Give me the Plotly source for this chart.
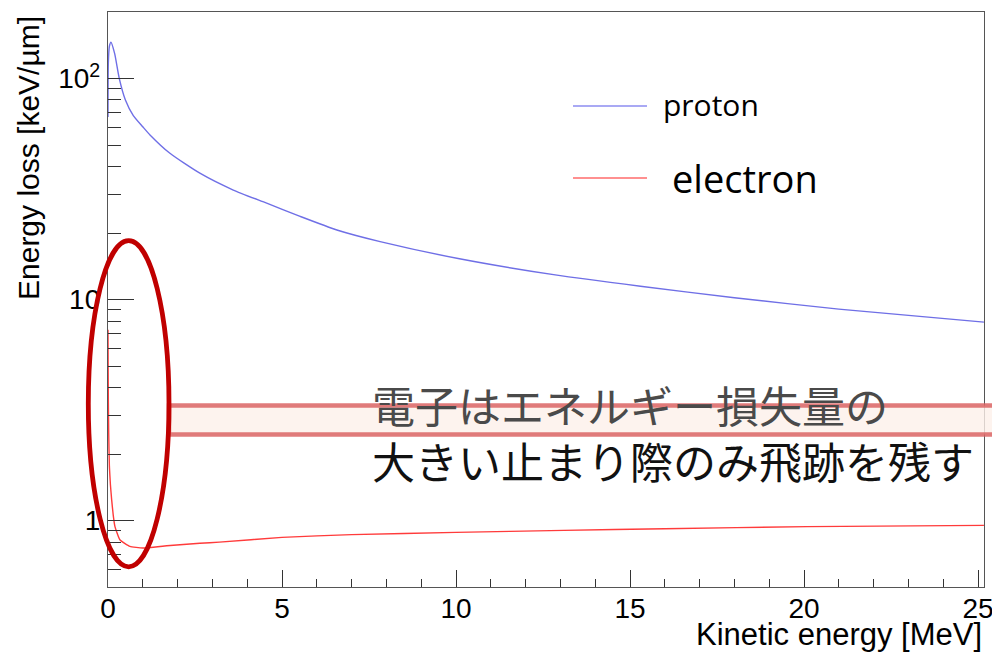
import plotly.graph_objects as go

# ---------------- data ----------------
proton_E = [0.0, 0.01, 0.04, 0.086, 0.19, 0.325, 0.5, 0.727, 1.0, 1.207, 1.78,
            2.64, 3.6, 4.56, 5.52, 6.6, 7.82, 10.1, 12.9, 15.3, 18.0, 21.0, 25.17]
proton_dEdx = [67, 118, 140, 146, 130, 100, 80, 68, 60.5, 55.6, 45.9,
               37.3, 31.3, 27.3, 23.8, 20.6, 18.3, 15.3, 12.9, 11.5, 10.2, 9.06, 7.91]

electron_E = [0.0, 0.004, 0.01, 0.02, 0.04, 0.07, 0.105, 0.15, 0.2, 0.34, 0.63,
              1.0, 1.69, 2.64, 3.2, 5.0, 7.0, 10.0, 13.1, 16.0, 20.1, 25.17]
electron_dEdx = [7.3, 5.0, 3.5, 2.5, 1.76, 1.45, 1.245, 1.06, 0.94, 0.82, 0.765,
                 0.752, 0.77, 0.79, 0.80, 0.84, 0.865, 0.885, 0.904, 0.92, 0.94, 0.952]

y_major_vals = [1, 10, 100]
y_major_text = ["1", "10", "10<sup>2</sup>"]
y_minor_vals = [0.6, 0.7, 0.8, 0.9, 2, 3, 4, 5, 6, 7, 8, 9,
                20, 30, 40, 50, 60, 70, 80, 90]
x_major_vals = [0, 5, 10, 15, 20, 25]

legend_names = ["proton", "electron"]
note_lines = ["電子はエネルギー損失量の", "大きい止まり際のみ飛跡を残す"]
x_title = "Kinetic energy [MeV]"
y_title = "Energy loss [keV/µm]"

# ---------------- layout geometry ----------------
W, H = 992, 654
L, R, T, B = 108, 8, 12, 67
PW = W - L - R
PH = H - T - B


def px(x):
    return (x - L) / PW


def py(y):
    return (H - B - y) / PH


PROTON_COLOR = "#6f6fe6"
ELECTRON_COLOR = "#ff3b3b"

fig = go.Figure()
fig.add_trace(go.Scatter(x=proton_E, y=proton_dEdx, mode="lines",
                         line=dict(color=PROTON_COLOR, width=1.4, shape="spline", smoothing=0.6),
                         name=legend_names[0], showlegend=False))
fig.add_trace(go.Scatter(x=electron_E, y=electron_dEdx, mode="lines",
                         line=dict(color=ELECTRON_COLOR, width=1.4, shape="spline", smoothing=0.4),
                         name=legend_names[1], showlegend=False))

fig.update_layout(
    width=W, height=H,
    margin=dict(l=L, r=R, t=T, b=B, autoexpand=False),
    paper_bgcolor="white", plot_bgcolor="white",
    xaxis=dict(
        range=[0, PW / 34.8], tickvals=x_major_vals, automargin=False,
        ticks="inside", ticklen=17, tickwidth=1, tickcolor="#333",
        minor=dict(ticks="inside", ticklen=8, dtick=1, tickcolor="#333", tickwidth=1),
        showline=True, linecolor="#555", linewidth=1.3, mirror=True,
        showgrid=False, zeroline=False,
        tickfont=dict(family="Liberation Sans, Arial, sans-serif", size=28, color="#000"),
        ticklabelstandoff=-4, ticklabeloverflow="allow",
    ),
    yaxis=dict(
        type="log", range=[-0.3, 2.301], automargin=False,
        tickvals=y_major_vals, ticktext=y_major_text,
        ticks="inside", ticklen=26, tickwidth=1, tickcolor="#333",
        minor=dict(ticks="inside", ticklen=13, tickvals=y_minor_vals,
                   tickcolor="#333", tickwidth=1),
        showline=True, linecolor="#555", linewidth=1.3, mirror=True,
        showgrid=False, zeroline=False,
        tickfont=dict(family="Liberation Sans, Arial, sans-serif", size=28, color="#000"),
        ticklabelstandoff=1,
    ),
)

shapes = []
# highlight band (drawn before the ellipse)
shapes.append(dict(type="rect", xref="paper", yref="paper",
                   x0=px(169), x1=px(1000), y0=py(405.5), y1=py(434.5),
                   fillcolor="rgba(252,240,234,0.8)",
                   line=dict(color="rgba(218,100,100,0.85)", width=4.5),
                   layer="above"))
# ellipse
shapes.append(dict(type="circle", xref="paper", yref="paper",
                   x0=px(88.3), x1=px(169), y0=py(566.8), y1=py(240.7),
                   line=dict(color="#c00000", width=4.8), layer="above"))
# legend lines
shapes.append(dict(type="line", xref="paper", yref="paper",
                   x0=px(573), x1=px(647), y0=py(106), y1=py(106),
                   line=dict(color="#8c8cf0", width=1.5)))
shapes.append(dict(type="line", xref="paper", yref="paper",
                   x0=px(573), x1=px(647), y0=py(178), y1=py(178),
                   line=dict(color="#ff6b6b", width=1.5)))
fig.update_layout(shapes=shapes)

note_text = ("<span style='color:#4a4a4a'>" + note_lines[0] + "</span><br>"
             + note_lines[1])

annotations = [
    dict(text=legend_names[0], xref="paper", yref="paper", x=px(661), y=py(104),
         xanchor="left", yanchor="middle", showarrow=False,
         font=dict(family="Open Sans, sans-serif", size=30, color="#000")),
    dict(text=legend_names[1], xref="paper", yref="paper", x=px(670), y=py(178),
         xanchor="left", yanchor="middle", showarrow=False,
         font=dict(family="Open Sans, sans-serif", size=38, color="#000")),
    dict(text=note_text, xref="paper", yref="paper", x=px(370), y=py(432),
         xanchor="left", yanchor="middle", align="left", showarrow=False,
         font=dict(family="Noto Sans CJK JP", size=43, color="#111")),
    dict(text=x_title, xref="paper", yref="paper", x=px(984), y=py(634),
         xanchor="right", yanchor="middle", showarrow=False,
         font=dict(family="Liberation Sans, Arial, sans-serif", size=31, color="#000")),
    dict(text=y_title, xref="paper", yref="paper", x=px(28), y=py(14),
         xanchor="center", yanchor="top", showarrow=False, textangle=-90,
         font=dict(family="Liberation Sans, Arial, sans-serif", size=30, color="#000")),
]
fig.update_layout(annotations=annotations)

fig.write_html("out.html")
